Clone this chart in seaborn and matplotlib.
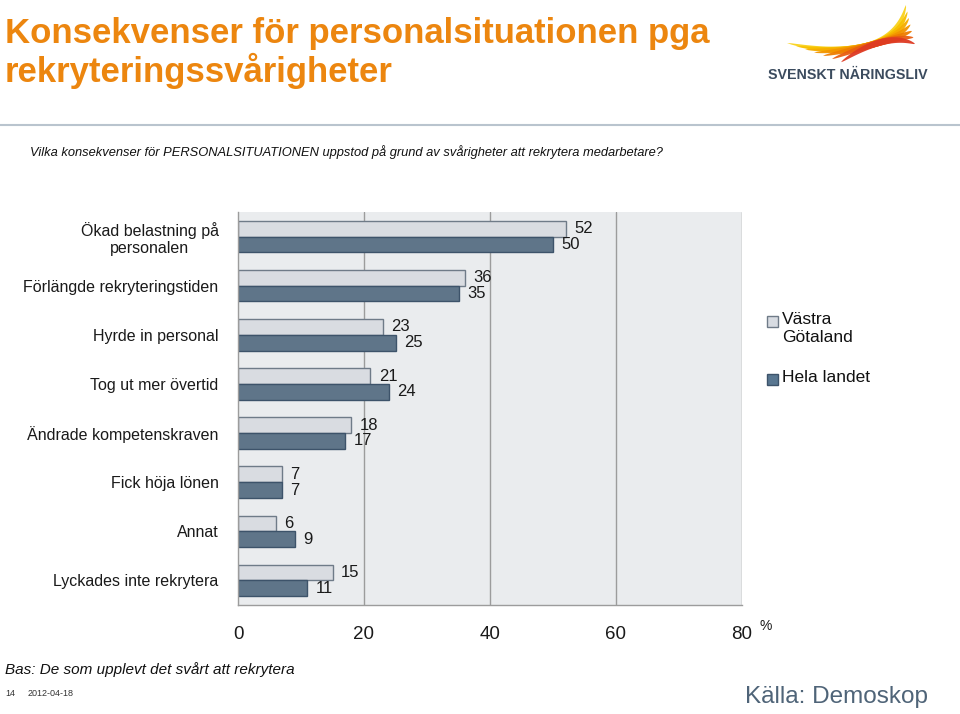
import numpy as np
import pandas as pd
import matplotlib
matplotlib.use('Agg')
import matplotlib.pyplot as plt
from matplotlib.patches import Rectangle, Polygon
import seaborn as sns

# data
kategorier = [
    'Ökad belastning på\npersonalen',
    'Förlängde rekryteringstiden',
    'Hyrde in personal',
    'Tog ut mer övertid',
    'Ändrade kompetenskraven',
    'Fick höja lönen',
    'Annat',
    'Lyckades inte rekrytera',
]
vastra_gotaland = [52, 36, 23, 21, 18, 7, 6, 15]
hela_landet = [50, 35, 25, 24, 17, 7, 9, 11]
serier = ['Västra\nGötaland', 'Hela landet']
x_ticks = [0, 20, 40, 60, 80]

LJUS = '#D8DCE2'
MORK = '#587690'
KANT_LJUS = '#6F7B88'
KANT_MORK = '#3D536A'
ORANGE = '#EC860F'
BAKGRUND = '#EAECEE'

sns.set_theme(style='white')
plt.rcParams['font.family'] = ['Liberation Sans', 'DejaVu Sans']

df = pd.DataFrame({
    'kategori': kategorier * 2,
    'procent': vastra_gotaland + hela_landet,
    'serie': [serier[0]] * len(kategorier) + [serier[1]] * len(kategorier),
})

fig = plt.figure(figsize=(9.6, 7.14), dpi=100)
ax = fig.add_axes([238 / 960, 1 - 605 / 714, (742 - 238) / 960, (605 - 212) / 714])

sns.barplot(data=df, y='kategori', x='procent', hue='serie', order=kategorier,
            hue_order=serier, palette=[LJUS, MORK], orient='h', width=0.64,
            gap=0, linewidth=1.0, legend=False, ax=ax)

# edge colours per series
for cont, kant in zip(ax.containers, [KANT_LJUS, KANT_MORK]):
    for p in cont:
        p.set_edgecolor(kant)
    ax.bar_label(cont, fmt='%g', padding=6, fontsize=12, color='#1a1a1a')

ax.set_facecolor(BAKGRUND)
ax.set_xlim(0, 80)
ax.set_xticks(x_ticks)
ax.set_xticklabels([str(t) for t in x_ticks], fontsize=13.5, color='#1a1a1a')
ax.set_xlabel('')
ax.set_ylabel('')
ax.tick_params(axis='y', length=0, labelsize=11.5, labelcolor='#1a1a1a', pad=14)
ax.tick_params(axis='x', length=7, width=1, color='#9a9a9a', direction='out', pad=8)
for lbl in ax.get_yticklabels():
    lbl.set_multialignment('center')

for x in x_ticks[1:]:
    ax.axvline(x, color='#9c9c9c', lw=1, zorder=0)
for side in ['top', 'right']:
    ax.spines[side].set_visible(False)
for side in ['left', 'bottom']:
    ax.spines[side].set_color('#9c9c9c')
    ax.spines[side].set_linewidth(1)

fig.text(760 / 960, 1 - 626 / 714, '%', fontsize=10, color='#1a1a1a', va='center')

# legend, drawn by hand to match the layout
for (y_px, namn, farg, kant) in [(321, 'Västra\nGötaland', LJUS, KANT_LJUS),
                                 (379, 'Hela landet', MORK, KANT_MORK)]:
    fig.patches.append(Rectangle((767 / 960, 1 - (y_px + 6) / 714), 11 / 960, 11 / 714,
                                 transform=fig.transFigure, facecolor=farg,
                                 edgecolor=kant, lw=1))
    fig.text(782 / 960, 1 - (y_px - 9) / 714, namn, fontsize=12.5, va='top',
             color='#111111', linespacing=1.25)

# title and header
fig.text(5 / 960, 1 - 34 / 714, 'Konsekvenser för personalsituationen pga',
         fontsize=25, fontweight='bold', color=ORANGE, va='center')
fig.text(5 / 960, 1 - 71 / 714, 'rekryteringssvårigheter',
         fontsize=25, fontweight='bold', color=ORANGE, va='center')
fig.add_artist(plt.Line2D([0, 1], [1 - 125 / 714, 1 - 125 / 714], color='#B9C4CE',
                          lw=1.5, transform=fig.transFigure))
fig.text(30 / 960, 1 - 152 / 714,
         'Vilka konsekvenser för PERSONALSITUATIONEN uppstod på grund av svårigheter att rekrytera medarbetare?',
         fontsize=9.3, style='italic', color='#111111', va='center')

# logo: tapered curved feathers that meet near the middle
logo = fig.add_axes([760 / 960, 1 - 90 / 714, 200 / 960, 90 / 714])
logo.set_xlim(0, 200)
logo.set_ylim(90, 0)
logo.axis('off')
fjader_farger = ['#F9D21A', '#F7C000', '#F5AC00', '#F29500', '#EE7D00', '#E85E12', '#DE3A22']
t = np.linspace(0, 1, 50)
for i, farg in enumerate(fjader_farger):
    s = np.array([27 + 9 * i, 43 + 3.2 * i])
    m = np.array([110 + 2 * i, 45 - 0.5 * i])
    e = np.array([146 + 1.5 * i, 5 + 6.5 * i])
    c = 2 * m - (s + e) / 2
    pts = ((1 - t) ** 2)[:, None] * s + (2 * (1 - t) * t)[:, None] * c + (t ** 2)[:, None] * e
    d = np.gradient(pts, axis=0)
    n = np.stack([-d[:, 1], d[:, 0]], axis=1)
    n /= np.linalg.norm(n, axis=1)[:, None]
    w = 3.2 * np.sin(np.pi * t) ** 0.6
    upper = pts + n * w[:, None]
    lower = pts - n * w[:, None]
    logo.add_patch(Polygon(np.vstack([upper, lower[::-1]]), closed=True,
                           facecolor=farg, edgecolor='none', alpha=0.95))
logo.text(88, 75, 'SVENSKT NÄRINGSLIV', fontsize=10.3, fontweight='bold',
          color='#3B4B5E', ha='center', va='center')

# footer
fig.text(5 / 960, 1 - 670 / 714, 'Bas: De som upplevt det svårt att rekrytera',
         fontsize=11, style='italic', color='#111111', va='center')
fig.text(5 / 960, 1 - 693 / 714, '14', fontsize=6.5, color='#333333', va='center')
fig.text(28 / 960, 1 - 693 / 714, '2012-04-18', fontsize=6.5, color='#333333', va='center')
fig.text(928 / 960, 1 - 697 / 714, 'Källa: Demoskop', fontsize=17.5, color='#4F6478',
         ha='right', va='center')

fig.savefig('out.png', dpi=100, facecolor='white')
